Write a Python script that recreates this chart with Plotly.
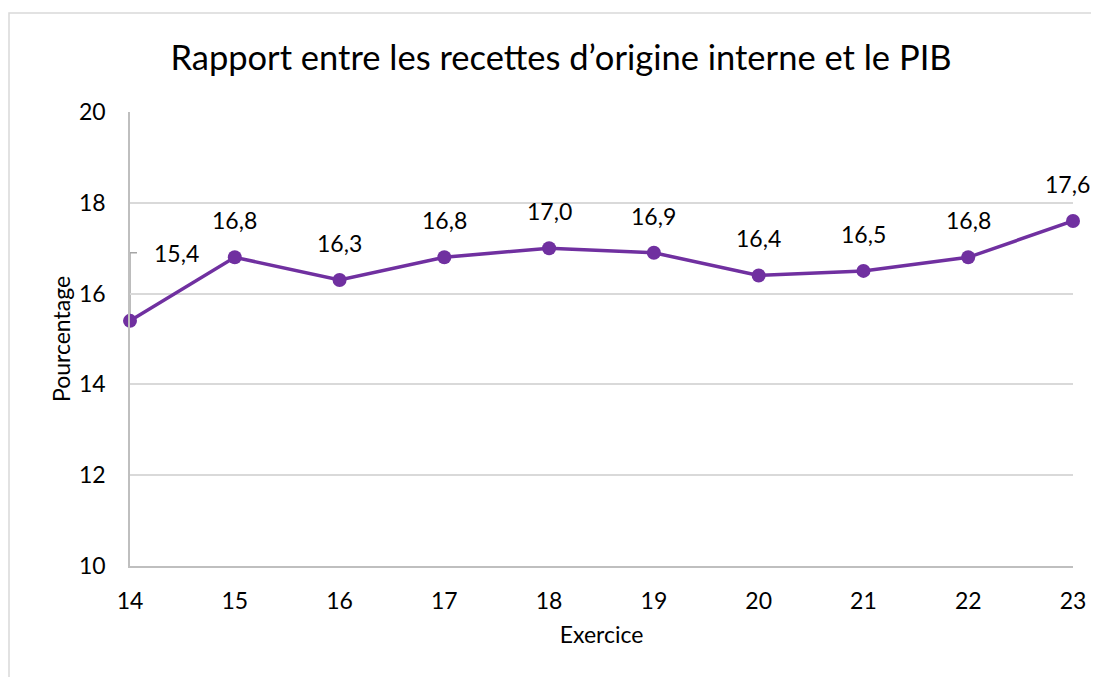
import plotly.graph_objects as go

years = [14, 15, 16, 17, 18, 19, 20, 21, 22, 23]
values = [15.4, 16.8, 16.3, 16.8, 17.0, 16.9, 16.4, 16.5, 16.8, 17.6]
labels = ["15,4", "16,8", "16,3", "16,8", "17,0", "16,9", "16,4", "16,5", "16,8", "17,6"]
y_ticks = [10, 12, 14, 16, 18, 20]

title_text = "Rapport entre les recettes d’origine interne et le PIB"
FONT = "Lato"
COLOR = "#7030A0"

# figure is placed at (8, 8) in the page by the default body margin
W, H = 1091, 669
L, R, T, B = 122, 26, 104, 111
PW, PH = W - L - R, H - T - B

fig = go.Figure()
fig.add_trace(go.Scatter(
    x=years, y=values, mode="lines+markers",
    line=dict(color=COLOR, width=3.5),
    marker=dict(color=COLOR, size=14),
    cliponaxis=False,
    hoverinfo="x+y", showlegend=False,
))

annotations = []
for i, (x, y, t) in enumerate(zip(years, values, labels)):
    if i == 0:
        annotations.append(dict(x=x, y=y, text=t, showarrow=False, xshift=46, yshift=68,
                                font=dict(family=FONT, size=23, color="#000000")))
    else:
        annotations.append(dict(x=x, y=y, text=t, showarrow=False, yshift=37,
                                xshift=-6 if i == len(years) - 1 else 0,
                                font=dict(family=FONT, size=23, color="#000000")))

# leader line for first label (data coords derived from first point)
px_per_unit_y = PH / (20 - 10)
lead_y = values[0] + 68 / px_per_unit_y
lead_x = years[0] + 7 / (PW / 9)
shapes = [
    dict(type="path", xref="x", yref="y",
         path=f"M {years[0]} {values[0]} L {years[0]} {lead_y} L {lead_x} {lead_y}",
         line=dict(color="#a6a6a6", width=1.5), layer="below"),
    # chart area border
    dict(type="rect", xref="paper", yref="paper",
         x0=(1 - L) / PW, x1=(1090 - L) / PW,
         y0=(H - B - 700) / PH, y1=(H - B - 5) / PH,
         line=dict(color="#d9d9d9", width=1.5), layer="below"),
]

fig.update_layout(
    width=W, height=H,
    margin=dict(l=L, r=R, t=T, b=B),
    paper_bgcolor="white", plot_bgcolor="white",
    font=dict(family=FONT, size=23, color="#000000"),
    title=dict(text=title_text, x=553 / W, xanchor="center",
               y=1 - 50 / H, yanchor="middle", font=dict(family=FONT, size=34.5, color="#000000")),
    xaxis=dict(range=[14, 23], tickvals=years, ticktext=[str(y) for y in years],
               showgrid=False, zeroline=False, showline=True, linecolor="#bfbfbf", linewidth=1.5,
               ticks="", ticklabelstandoff=14, automargin=False,
               title=dict(text="Exercice", standoff=14, font=dict(family=FONT, size=23))),
    yaxis=dict(range=[10, 20], tickvals=y_ticks, showgrid=True, gridcolor="#d9d9d9", gridwidth=1.5,
               zeroline=False, showline=True, linecolor="#bfbfbf", linewidth=1.5,
               ticks="", ticklabelstandoff=18, automargin=False,
               title=dict(text="Pourcentage", standoff=2, font=dict(family=FONT, size=23))),
    annotations=annotations,
    shapes=shapes,
)

fig.write_html("out.html")
